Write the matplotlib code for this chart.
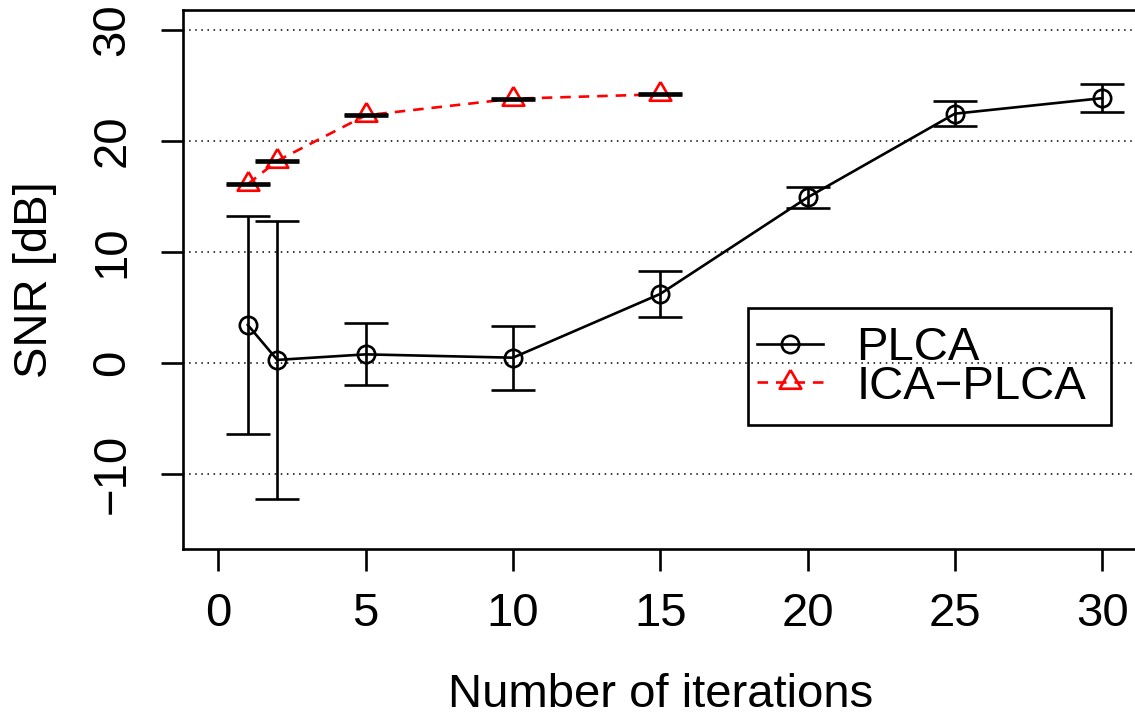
import matplotlib
matplotlib.use("Agg")
import matplotlib.pyplot as plt
from matplotlib.lines import Line2D
from matplotlib.patches import Rectangle

plt.rcParams['font.family'] = ['Liberation Sans', 'DejaVu Sans']
plt.rcParams['axes.unicode_minus'] = True

# SNR (mean and standard deviation) versus number of iterations
iters_plca = [1, 2, 5, 10, 15, 20, 25, 30]
snr_plca = [3.4, 0.25, 0.75, 0.45, 6.2, 14.9, 22.45, 23.85]
sd_plca = [9.8, 12.55, 2.8, 2.9, 2.1, 0.93, 1.15, 1.25]

iters_ica = [1, 2, 5, 10, 15]
snr_ica = [16.1, 18.2, 22.3, 23.8, 24.2]
sd_ica = [0.1, 0.1, 0.1, 0.1, 0.1]

xticks = [0, 5, 10, 15, 20, 25, 30]
yticks = [-10, 0, 10, 20, 30]

# centroid-centred triangle, like R's pch=2
tri = [(0, 1), (-0.866, -0.5), (0.866, -0.5), (0, 1)]

W, H = 1135, 718
fig = plt.figure(figsize=(W / 100, H / 100), dpi=100)
ax = fig.add_axes([183 / W, 169 / H, 954.5 / W, 539 / H])

lw = 1.9
fs = 34

for y in yticks:
    ax.axhline(y, color='k', lw=1.1, linestyle=(0, (1, 3.0)), zorder=1)

ax.plot(iters_plca, snr_plca, color='k', lw=lw, marker='o', ms=12.5,
        mfc='none', mec='k', mew=lw, zorder=3)
ax.plot(iters_ica, snr_ica, color='red', lw=lw, linestyle=(0, (4, 3)),
        marker=tri, ms=18, mfc='none', mec='red', mew=lw, zorder=3)

ax.errorbar(iters_plca, snr_plca, yerr=sd_plca, fmt='none', ecolor='k',
            elinewidth=lw, capsize=16, capthick=lw, zorder=4)
ax.errorbar(iters_ica, snr_ica, yerr=sd_ica, fmt='none', ecolor='k',
            elinewidth=lw, capsize=16, capthick=lw, zorder=4)

ax.set_xlim(-1.2, 31.2)
ax.set_ylim(-16.8, 31.8)
ax.set_xticks(xticks)
ax.set_yticks(yticks)
ax.tick_params(axis='both', direction='out', length=16, width=lw,
               labelsize=fs, color='k')
ax.tick_params(axis='x', pad=15)
ax.tick_params(axis='y', pad=19, labelrotation=90)
for lab in ax.get_yticklabels():
    lab.set_verticalalignment('center')
for s in ax.spines.values():
    s.set_linewidth(lw)

ax.set_xlabel("Number of iterations", fontsize=fs, va='baseline')
ax.xaxis.set_label_coords(0.5, (549 - 707) / 539)
ax.set_ylabel("SNR [dB]", fontsize=fs, va='baseline', ha='center',
              rotation_mode='anchor')
ax.yaxis.set_label_coords((47 - 183) / 954.5, 0.5)

# legend: entries without frame, box drawn separately
handles = [
    Line2D([], [], color='k', lw=lw, marker='o', ms=12.5, mfc='none',
           mec='k', mew=lw),
    Line2D([], [], color='red', lw=lw, linestyle=(0, (4, 3)), marker=tri,
           ms=18, mfc='none', mec='red', mew=lw),
]
leg = ax.legend(handles, ["PLCA", "ICA\u2212PLCA"], fontsize=fs,
                loc='center left', bbox_to_anchor=(757 / W, 1 - 367.5 / H),
                bbox_transform=fig.transFigure, frameon=False, borderpad=0,
                labelspacing=-0.12, handlelength=1.4, handletextpad=0.7,
                borderaxespad=0, numpoints=1)
fig.patches.append(Rectangle((748 / W, 1 - 425 / H), 363 / W, 117 / H,
                             transform=fig.transFigure, fill=False,
                             edgecolor='k', lw=lw, zorder=5))

fig.savefig("out.png", dpi=100)
